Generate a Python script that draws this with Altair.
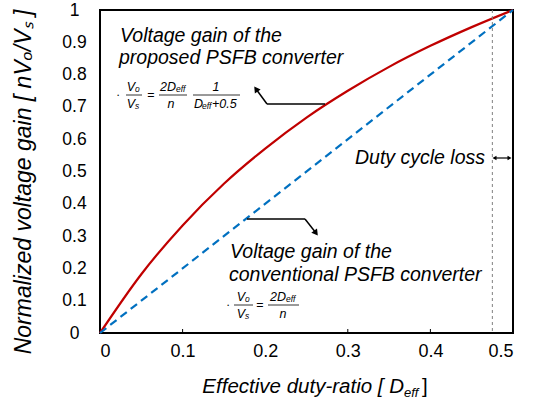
import altair as alt
import pandas as pd

# ---------------- data ----------------
duty = [0, 0.05, 0.1, 0.15, 0.2, 0.25, 0.3, 0.35, 0.4, 0.45, 0.5]
gain_proposed = [0, 0.182, 0.333, 0.462, 0.571, 0.667, 0.75, 0.824, 0.889, 0.947, 1.0]
duty_conv = [0, 0.5]
gain_conventional = [0, 1.0]
x_tick_values = [0, 0.1, 0.2, 0.3, 0.4, 0.5]
y_tick_values = [0, 0.1, 0.2, 0.3, 0.4, 0.5, 0.6, 0.7, 0.8, 0.9, 1.0]
inner_ticks_x = [0.1, 0.3, 0.4]
duty_loss_start = [0.475]

# ---------------- layout ----------------
W, H = 413, 323
L, T = 100, 10
FONT = "Liberation Sans"

red_df = pd.DataFrame({"D": duty, "G": gain_proposed})
blue_df = pd.DataFrame({"D": duty_conv, "G": gain_conventional})
loss_df = pd.DataFrame({"D": duty_loss_start})
tick_df = pd.DataFrame({"D": inner_ticks_x})
dummy = pd.DataFrame({"a": [0]})

xscale = alt.Scale(domain=[0, 0.5], nice=False, zero=False)
yscale = alt.Scale(domain=[0, 1], nice=False)
xaxis = alt.Axis(values=x_tick_values, format=".1~f", title=None, grid=False,
                 domain=False, ticks=False, tickSize=0, labelFont=FONT,
                 labelFontSize=18, labelColor="black", labelPadding=9)
yaxis = alt.Axis(values=y_tick_values, format=".1~f", title=None, grid=False,
                 domain=False, ticks=False, tickSize=0, labelFont=FONT,
                 labelFontSize=17.5, labelColor="black", labelAlign="center",
                 labelPadding=26)
X = alt.X("D:Q", scale=xscale, axis=xaxis)
Y = alt.Y("G:Q", scale=yscale, axis=yaxis)

red = alt.Chart(red_df).mark_line(color="#C00000", strokeWidth=2.2,
                                  interpolate="monotone").encode(x=X, y=Y)
blue = alt.Chart(blue_df).mark_line(color="#0070C0", strokeWidth=2.2,
                                    strokeDash=[8, 5]).encode(x=X, y=Y)
loss = alt.Chart(loss_df).mark_rule(color="#808080", strokeWidth=1,
                                    strokeDash=[3, 3]).encode(x=X)
ticks = alt.Chart(tick_df).mark_rule(color="black", strokeWidth=1).encode(
    x=X, y=alt.value(H), y2=alt.value(H - 4))


def txt(s, ax, ay, size=19, align="left", style="italic", baseline="alphabetic", angle=None):
    kw = dict(text=s, font=FONT, fontSize=size, align=align, baseline=baseline,
              fontStyle=style, color="black")
    if angle is not None:
        kw["angle"] = angle
    return alt.Chart(dummy).mark_text(**kw).encode(x=alt.value(ax - L), y=alt.value(ay - T))


def seg(x1, y1, x2, y2, w=1.5):
    return alt.Chart(dummy).mark_rule(color="black", strokeWidth=w).encode(
        x=alt.value(x1 - L), x2=alt.value(x2 - L), y=alt.value(y1 - T), y2=alt.value(y2 - T))


def head(ax, ay, angle, size=50):
    return alt.Chart(dummy).mark_point(shape="triangle-up", filled=True, color="black",
                                       size=size, angle=angle, opacity=1).encode(
        x=alt.value(ax - L), y=alt.value(ay - T))


FS = 12.5
SS = 8.5
ann = [
    # titles
    txt("Normalized voltage gain  [ nV\u2092/V\u209b ]", 24, 182, size=23, align="center",
        baseline="middle", angle=270),
    txt("Effective duty-ratio [ D", 404, 393, size=20.5, align="right"),
    txt("eff", 404, 397, size=13, align="left"),
    txt("]", 422, 393, size=20.5, align="left", style="normal"),
    # proposed annotation
    txt("Voltage gain of the", 120, 42, size=19.5),
    txt("proposed PSFB converter", 119, 64, size=19.5),
    # conventional annotation
    txt("Voltage gain of the", 230, 258, size=19.5),
    txt("conventional PSFB converter", 229, 281, size=19.5),
    # duty cycle loss
    txt("Duty cycle loss", 485, 164, size=19.5, align="right"),
    # formula 1
    txt("\u2022", 118, 95, size=5, align="center", baseline="middle", style="normal"),
    txt("V", 135, 91, size=FS, align="right"),
    txt("o", 135, 92, size=SS, align="left"),
    txt("V", 135, 108, size=FS, align="right"),
    txt("s", 135, 109, size=SS, align="left"),
    txt("=", 151, 95, size=FS, align="center", baseline="middle", style="normal"),
    txt("2D", 176, 91, size=FS, align="right"),
    txt("eff", 176, 92, size=SS, align="left"),
    txt("n", 171, 108, size=FS, align="center"),
    txt("1", 216, 91, size=FS, align="center"),
    txt("D", 203, 108, size=FS, align="right"),
    txt("eff", 202, 109, size=SS, align="left"),
    txt("+0.5", 212, 108, size=FS, align="left"),
    seg(126, 95, 142, 95, 0.8),
    seg(159, 95, 187, 95, 0.8),
    seg(193, 95, 240, 95, 0.8),
    # formula 2
    txt("\u2022", 228, 305, size=5, align="center", baseline="middle", style="normal"),
    txt("V", 245, 301, size=FS, align="right"),
    txt("o", 245, 302, size=SS, align="left"),
    txt("V", 245, 318, size=FS, align="right"),
    txt("s", 245, 319, size=SS, align="left"),
    txt("=", 260, 305, size=FS, align="center", baseline="middle", style="normal"),
    txt("2D", 286, 301, size=FS, align="right"),
    txt("eff", 286, 302, size=SS, align="left"),
    txt("n", 283, 318, size=FS, align="center"),
    seg(234, 305, 253, 305, 0.8),
    seg(268, 305, 299, 305, 0.8),
    # arrow 1 (to proposed label)
    seg(325, 104, 267, 104),
    seg(267, 104, 256, 89),
    head(256, 89, 325),
    # arrow 2 (to conventional label)
    seg(247, 219, 305, 219),
    seg(305, 219, 316, 233),
    head(316, 233, 143),
    # duty cycle loss double arrow
    seg(494, 158, 510, 158, 1.2),
    head(494.5, 158, 270, 22),
    head(509.5, 158, 90, 22),
]

chart = alt.layer(red, blue, loss, ticks, *ann).properties(
    width=W, height=H,
    padding={"left": L, "top": T, "right": 546 - L - W, "bottom": 402 - T - H},
    autosize=alt.AutoSizeParams(type="none"),
    background="white",
).configure_view(stroke="black", strokeWidth=2)

chart.save("out.html", embed_options={"renderer": "svg", "actions": False})
